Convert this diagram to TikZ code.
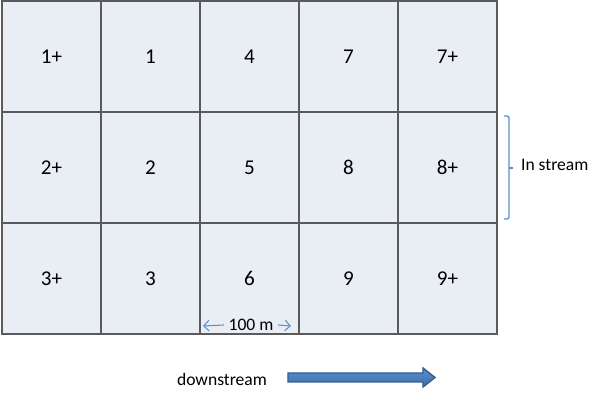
\documentclass[tikz,border=0pt]{standalone}
\usepackage{fontspec}
\setmainfont{Carlito}
\usepackage{tikz}
\usetikzlibrary{arrows,arrows.meta,calc,positioning}
\definecolor{cellfill}{HTML}{E9EDF4}
\definecolor{gridline}{HTML}{5A5A5A}
\definecolor{bluenote}{HTML}{5B8FD0}
\definecolor{arrowtop}{HTML}{5A8FD2}
\definecolor{arrowbot}{HTML}{3E6CAA}
\definecolor{arrowline}{HTML}{385D8A}

\begin{document}
\begin{tikzpicture}[x=0.02cm,y=-0.02cm,
  cell/.style={draw=gridline,fill=cellfill,line width=1pt,minimum width=1.98cm,minimum height=2.22cm,inner sep=0pt,font=\fontsize{12}{14}\selectfont},
  note/.style={font=\fontsize{10}{12}\selectfont,inner sep=1pt},
  distarrow/.style={bluenote,line width=0.6pt,-{Straight Barb[length=3pt,width=6pt]}}]
\useasboundingbox (0,0) rectangle (600,404);
% grid of cells, 3 rows x 5 columns
\foreach \lab [count=\i from 0] in {1+,1,4,7,7+}{\node[cell] (r1c\i) at (51.5+99*\i,56.5) {\lab};}
\foreach \lab [count=\i from 0] in {2+,2,5,8,8+}{\node[cell] (r2c\i) at (51.5+99*\i,167.5) {\lab};}
\foreach \lab [count=\i from 0] in {3+,3,6,9,9+}{\node[cell] (r3c\i) at (51.5+99*\i,278.5) {\lab};}
% in stream bracket
\node[note,anchor=west] (instream) at (519,165) {In stream};
\coordinate (bt) at (504,116);
\coordinate (bb) at (504,219);
\coordinate (bm) at (509,168);
\draw[bluenote,line width=0.8pt,rounded corners=1.2pt] (bt) -- (509,116) -- (bm) -- (509,219) -- (bb);
\draw[bluenote,line width=0.8pt] (bm) -- ++(4,0);
% 100 m
\node[note,inner xsep=2.5pt] (dist) at (251,325) {100 m};
\coordinate (dl) at (203,326);
\coordinate (dr) at (291,326);
\draw[distarrow] (dist.west) -- (dl);
\draw[distarrow] (dist.east) -- (dr);
% downstream
\node[note] (down) at (222,379) {downstream};
\draw[arrowline,line width=0.8pt,top color=arrowtop,bottom color=arrowbot]
  (288,373) -- (423,373) -- (423,368) -- (435,377.5) -- (423,387) -- (423,382) -- (288,382) -- cycle;
\end{tikzpicture}
\end{document}
